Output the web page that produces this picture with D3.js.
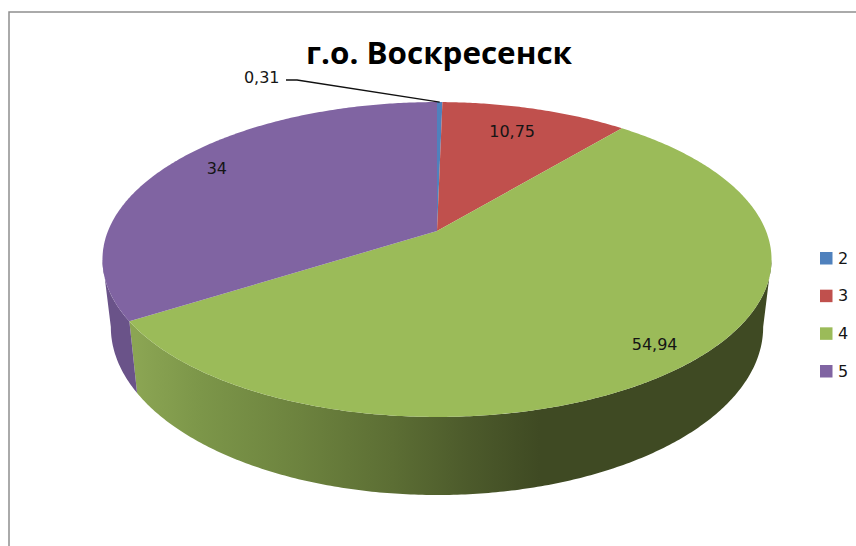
<!DOCTYPE html>
<html><head><meta charset="utf-8">
<script src="https://cdn.jsdelivr.net/npm/d3@7"></script>
<style>html,body{margin:0;padding:0;background:#fff}svg{display:block}text{fill:#151515;font-family:"DejaVu Sans",sans-serif}</style>
</head><body><svg id="c" width="856" height="546"></svg>
<script>
const title = "г.о. Воскресенск";
const categories = ["2","3","4","5"];
const values = [0.31,10.75,54.94,34];
const labels = ["0,31","10,75","54,94","34"];
const colors = ["#4f81bd","#c0504d","#9bbb59","#8064a2"];

const svg = d3.select("#c");
const defs = svg.append("defs");
const cx=437, cy=231, a=329, b=152.3, k=0.181;
const pie = d3.pie().sort(null).value(d=>d)(values);

// perspective projection of a point on the disc (theta clockwise from top)
function topPt(t,r=1){const u=r*Math.sin(t),v=r*Math.cos(t),w=1+k*v;return [cx+a*u/w,cy-b*v/w];}
function botPt(t){const u=Math.sin(t),v=Math.cos(t),w=1+k*v;return [cx+0.975*a*u/w,cy+65.6-1.067*b*v/w];}
const line=d3.line();
const samples=(s,e)=>{const n=Math.max(2,Math.ceil((e-s)/0.01));return d3.range(n+1).map(i=>s+(e-s)*i/n);};

const gGreen=defs.append("linearGradient").attr("id","sideGreen").attr("gradientUnits","userSpaceOnUse")
  .attr("x1",130).attr("x2",770).attr("y1",0).attr("y2",0);
[[0.01,"#8ba553"],[0.11,"#7c9649"],[0.27,"#6c823e"],[0.41,"#5c6e34"],[0.53,"#4c5a2b"],[0.64,"#3f4a23"],[1,"#3f4a23"]]
 .forEach(s=>gGreen.append("stop").attr("offset",s[0]).attr("stop-color",s[1]));
const sideFill=["#3d5a7e","#7a3230","url(#sideGreen)","#6a5389"];

const sideG=svg.append("g"), topG=svg.append("g");
// frame
svg.append("path").attr("d","M9 546V12H856").attr("fill","none").attr("stroke","#8e8e8e").attr("stroke-width",1.5);

// side walls: from tangent point to tangent point of the rim
const tangent=Math.acos(-k);
pie.forEach((p,i)=>{
  const lim0=tangent, lim1=2*Math.PI-tangent;
  const s=Math.max(p.startAngle,lim0), e=Math.min(p.endAngle,lim1);
  if(e<=s) return;
  const ts=samples(s,e);
  sideG.append("path").attr("d",line(ts.map(t=>topPt(t)).concat(ts.slice().reverse().map(t=>botPt(t))))+"Z")
    .attr("fill",sideFill[i]);
});
// top faces
pie.forEach((p,i)=>{
  const ts=samples(p.startAngle,p.endAngle);
  topG.append("path").attr("d",line([[cx,cy]].concat(ts.map(t=>topPt(t))))+"Z")
    .attr("fill",colors[i]);
});

// labels: value label positions along the slice mid-radius
const labelR=[1,0.79,0.875,0.85];
const labelAdj=[[-178,-25],[-5,0],[2,0],[8,-4]];
pie.forEach((p,i)=>{
  const m=(p.startAngle+p.endAngle)/2;
  const q=topPt(m,labelR[i]);
  svg.append("text").attr("x",q[0]+labelAdj[i][0]).attr("y",q[1]+labelAdj[i][1])
    .attr("text-anchor","middle").attr("dominant-baseline","central")
    .attr("font-size",16).text(labels[i]);
});
// leader line for the smallest slice
const m0=(pie[0].startAngle+pie[0].endAngle)/2, q0=topPt(m0,1);
svg.append("path").attr("d",line([[q0[0],q0[1]],[297,80],[286,80]]))
  .attr("fill","none").attr("stroke","#111").attr("stroke-width",1.3);

// title
svg.append("text").attr("x",306).attr("y",64)
  .attr("textLength",266).attr("lengthAdjust","spacingAndGlyphs")
  .attr("font-size",30).attr("font-weight",700).style("font-family","'Open Sans',sans-serif").style("fill","#000").text(title);

// legend
const ly=d3.scalePoint().domain(categories).range([258,371]);
categories.forEach((c,i)=>{
  svg.append("rect").attr("x",820).attr("y",ly(c)-6).attr("width",12.5).attr("height",12.5).attr("fill",colors[i]);
  svg.append("text").attr("x",838).attr("y",ly(c)).attr("dominant-baseline","central").attr("font-size",16).text(c);
});
</script></body></html>
